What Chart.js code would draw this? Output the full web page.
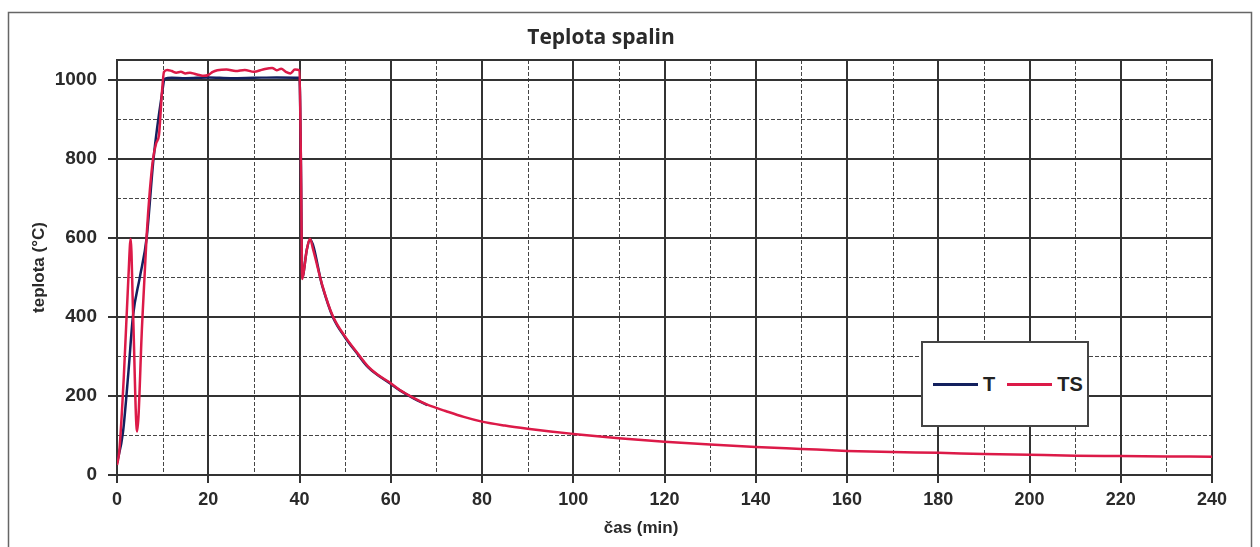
<!DOCTYPE html>
<html>
<head>
<meta charset="utf-8">
<script src="https://cdn.jsdelivr.net/npm/chart.js@4.4.1/dist/chart.umd.min.js"></script>
<style>
  body { margin: 0; background: #fff; }
  #wrap { position: relative; width: 1260px; height: 547px; }
  #legend {
    position: absolute; left: 921px; top: 341px; width: 154px; height: 82px;
    border: 2px solid #444; background: #fff; padding-left: 10px;
    display: flex; align-items: center;
    font: bold 20px "Liberation Sans", Arial, sans-serif; color: #222;
  }
  .legend-item { display: flex; align-items: center; margin-right: 12px; }
  .legend-line { width: 45px; height: 3px; margin-right: 5px; }
</style>
</head>
<body>
<div id="wrap">
  <canvas id="mainChart" width="1260" height="547"></canvas>
  <div id="legend"></div>
</div>
<script>
const chartTitle = "Teplota spalin";
const xTitle = "čas (min)";
const yTitle = "teplota (°C)";

// tick labels
const xTickValues = [0, 20, 40, 60, 80, 100, 120, 140, 160, 180, 200, 220, 240];
const yTickValues = [0, 200, 400, 600, 800, 1000];
// dashed in-between grid
const xMinorValues = [10, 30, 50, 70, 90, 110, 130, 150, 170, 190, 210, 230];
const yMinorValues = [100, 300, 500, 700, 900];

// T series (mostly hidden under TS)
const tTime = [0, 1.3, 2.5, 3.5, 5, 6.5, 8, 9.8, 10.5, 12, 15, 20, 25, 30, 35, 40, 40.3, 40.6, 41.6, 42.3, 45, 47.3, 50, 52.6, 55, 59.8, 62, 65, 68];
const tTemp = [30, 107, 260, 402, 500, 600, 800, 960, 1003, 1005, 1004, 1006, 1004, 1005, 1006, 1005, 800, 500, 570, 595, 478, 400, 348, 308, 273, 232, 214, 194, 177];

// TS series
const tsTime = [0, 0.5, 1.5, 2.5, 3, 3.5, 4.4, 5.5, 6.5, 7.2, 7.9, 8.6, 9.2, 9.8, 10.3, 11, 12, 13, 14, 15, 16, 17, 18, 19, 20, 21, 22, 24, 26, 28, 30, 32, 34, 35, 36, 37, 38, 39, 40,
  40.3, 40.6, 41, 41.6, 42.3, 43, 45, 47.3, 50, 52.6, 55, 57, 59.8, 62, 65, 68, 72, 76, 80, 85, 90, 95, 100, 110, 120, 130, 140, 150, 160, 170, 180, 190, 200, 210, 220, 230, 240];
const tsTemp = [25, 60, 250, 500, 598, 420, 110, 380, 606, 720, 800, 840, 860, 960, 1020, 1025, 1022, 1018, 1020, 1016, 1018, 1015, 1012, 1010, 1012, 1020, 1024, 1026, 1022, 1025, 1020, 1026, 1030, 1024, 1028, 1020, 1016, 1026, 1024,
  800, 496, 520, 570, 598, 570, 480, 402, 350, 310, 275, 255, 234, 215, 195, 178, 162, 147, 135, 125, 117, 110, 104, 93, 84, 77, 71, 66, 61, 58, 56, 53, 51, 49, 48, 47, 46];

const tColor = '#13205e';
const tsColor = '#dc1a48';

function toPoints(xs, ys) {
  return xs.map((x, i) => ({ x: x, y: ys[i] }));
}

const gridExtras = {
  id: 'gridExtras',
  beforeDraw(chart) {
    const ctx = chart.ctx;
    ctx.save();
    ctx.strokeStyle = '#666';
    ctx.lineWidth = 1.5;
    ctx.strokeRect(8.5, 12.5, 1243, 545);
    ctx.restore();
  },
  beforeDatasetsDraw(chart) {
    const { ctx, chartArea: a, scales: { x, y } } = chart;
    ctx.save();
    ctx.strokeStyle = 'rgba(50,50,50,0.9)';
    ctx.lineWidth = 1;
    ctx.setLineDash([4, 2]);
    xMinorValues.forEach(v => {
      const px = Math.round(x.getPixelForValue(v)) + 0.5;
      ctx.beginPath(); ctx.moveTo(px, a.top); ctx.lineTo(px, a.bottom); ctx.stroke();
    });
    yMinorValues.forEach(v => {
      const py = Math.round(y.getPixelForValue(v)) + 0.5;
      ctx.beginPath(); ctx.moveTo(a.left, py); ctx.lineTo(a.right, py); ctx.stroke();
    });
    ctx.setLineDash([]);
    ctx.strokeStyle = '#333';
    ctx.lineWidth = 2;
    ctx.strokeRect(a.left, a.top, a.right - a.left, a.bottom - a.top);
    ctx.restore();
  },
  afterDraw(chart) {
    const ctx = chart.ctx;
    ctx.save();
    ctx.fillStyle = '#2a2a2a';
    ctx.textAlign = 'center';
    ctx.textBaseline = 'middle';
    ctx.font = 'bold 21px "Open Sans", sans-serif';
    ctx.fillText(chartTitle, 601, 38);
    ctx.font = 'bold 17px "Liberation Sans", Arial, sans-serif';
    ctx.fillText(xTitle, 641, 528);
    ctx.restore();
  }
};

const ctx = document.getElementById('mainChart').getContext('2d');
const currentChart = new Chart(ctx, {
  type: 'line',
  data: {
    datasets: [
      {
        label: 'T',
        data: toPoints(tTime, tTemp),
        borderColor: tColor,
        borderWidth: 2.5,
        pointRadius: 0,
        cubicInterpolationMode: 'monotone',
        order: 1
      },
      {
        label: 'TS',
        data: toPoints(tsTime, tsTemp),
        borderColor: tsColor,
        borderWidth: 2.5,
        pointRadius: 0,
        cubicInterpolationMode: 'monotone',
        order: 0
      }
    ]
  },
  options: {
    responsive: false,
    animation: false,
    layout: { padding: { left: 26, right: 48, top: 60, bottom: 4 } },
    plugins: {
      legend: { display: false },
      title: { display: false },
      tooltip: { enabled: false }
    },
    scales: {
      x: {
        type: 'linear',
        min: 0,
        max: 240,
        afterBuildTicks: scale => { scale.ticks = xTickValues.map(v => ({ value: v })); },
        afterFit: scale => { scale.height = 68; },
        ticks: {
          color: '#2a2a2a',
          padding: 6,
          maxRotation: 0,
          callback: v => String(v),
          font: { family: '"Liberation Sans", Arial, sans-serif', size: 18, weight: 'bold' }
        },
        grid: { color: '#333', lineWidth: 2, tickLength: 8 },
        border: { color: '#333', width: 2 }
      },
      y: {
        min: 0,
        max: 1050,
        afterBuildTicks: scale => { scale.ticks = yTickValues.map(v => ({ value: v })); },
        afterFit: scale => { scale.width = 91; },
        ticks: {
          color: '#2a2a2a',
          padding: 11,
          callback: v => String(v),
          font: { family: '"Liberation Sans", Arial, sans-serif', size: 19, weight: 'bold' }
        },
        grid: { color: '#333', lineWidth: 2, tickLength: 9 },
        border: { color: '#333', width: 2 },
        title: {
          display: true,
          text: yTitle,
          color: '#2a2a2a',
          padding: { top: 3, bottom: 3 },
          font: { family: '"Liberation Sans", Arial, sans-serif', size: 17, weight: 'bold' }
        }
      }
    }
  },
  plugins: [gridExtras]
});

// custom legend box
const legendContainer = document.getElementById('legend');
currentChart.data.datasets.forEach(ds => {
  const item = document.createElement('div');
  item.className = 'legend-item';
  const line = document.createElement('div');
  line.className = 'legend-line';
  line.style.backgroundColor = ds.borderColor;
  const label = document.createElement('span');
  label.textContent = ds.label;
  item.appendChild(line);
  item.appendChild(label);
  legendContainer.appendChild(item);
});
</script>
</body>
</html>
